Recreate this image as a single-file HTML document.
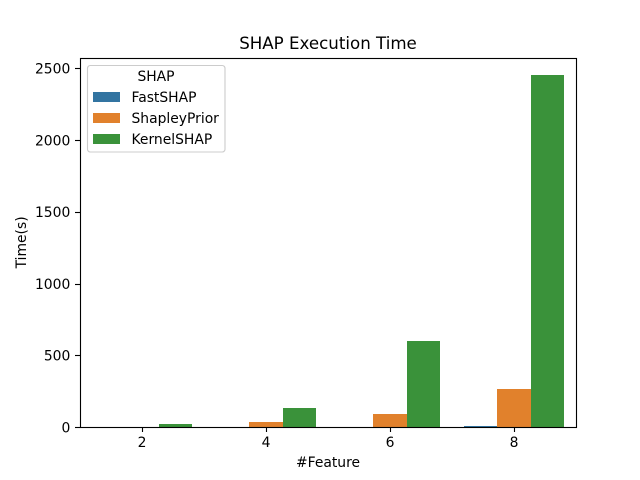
<!DOCTYPE html>
<html>
<head>
<meta charset="utf-8">
<style>
html,body{margin:0;padding:0;background:#fff;}
svg{display:block;}
text{font-family:"DejaVu Sans","Liberation Sans",sans-serif;fill:#000;}
</style>
</head>
<body>
<svg id="chart" xmlns="http://www.w3.org/2000/svg" width="640" height="480" viewBox="0 0 640 480">
  <rect x="0" y="0" width="640" height="480" fill="#fff"></rect>
  <text x="328" y="49" font-size="16.67" text-anchor="middle">SHAP Execution Time</text>
  <text x="328" y="467" font-size="13.89" text-anchor="middle">#Feature</text>
  <text x="26" y="242.4" font-size="13.89" text-anchor="middle" transform="rotate(-90 26 242.4)">Time(s)</text>
  <g id="bars"></g>
  <g id="ticks"></g>
  <rect x="80.5" y="58.5" width="496" height="369" fill="none" stroke="#000" stroke-width="1.11"></rect>
  <g>
    <rect x="87.5" y="65.5" width="137.5" height="86.5" rx="2.8" fill="#fff" fill-opacity="0.8" stroke="#ccc" stroke-width="1.11"></rect>
    <text x="156" y="81" font-size="13.89" text-anchor="middle">SHAP</text>
    <rect x="93" y="92" width="27" height="10" fill="#3274a1"></rect>
    <text x="131.5" y="102" font-size="13.89">FastSHAP</text>
    <rect x="93" y="113" width="27" height="10" fill="#e1812c"></rect>
    <text x="131.5" y="123" font-size="13.89">ShapleyPrior</text>
    <rect x="93" y="134" width="27" height="10" fill="#3a923a"></rect>
    <text x="131.5" y="144" font-size="13.89">KernelSHAP</text>
  </g>
</svg>
<script>
const categories = ["2", "4", "6", "8"];
const seriesNames = ["FastSHAP", "ShapleyPrior", "KernelSHAP"];
const fastShap = [0.3, 0.5, 1, 7];
const shapleyPrior = [3, 36, 92, 266];
const kernelShap = [22, 134, 600, 2453];
const yTickLabels = ["0", "500", "1000", "1500", "2000", "2500"];

const NS = "http://www.w3.org/2000/svg";
const plotLeft = 80, plotRight = 576, plotTop = 57.6, plotBottom = 427.2;
const allSeries = [fastShap, shapleyPrior, kernelShap];
const seriesColors = ["#3274a1", "#e1812c", "#3a923a"];
const yMax = Math.max(...allSeries.flat()) * 1.05;

function xBand(i) {
  return plotLeft + (i + 0.5) * (plotRight - plotLeft) / categories.length;
}
function barWidth() {
  return 0.8 / seriesNames.length * (plotRight - plotLeft) / categories.length;
}
function yScale(v) {
  return plotBottom - (v / yMax) * (plotBottom - plotTop);
}
function snapLine(v) {
  return Math.floor(v + 0.5) + 0.5;
}

const barsGroup = document.getElementById("bars");
const ticksGroup = document.getElementById("ticks");

allSeries.forEach(function (values, s) {
  values.forEach(function (v, i) {
    const bar = document.createElementNS(NS, "rect");
    const w = barWidth();
    const rawLeft = xBand(i) + (s - seriesNames.length / 2) * w;
    const left = Math.round(rawLeft);
    const right = Math.round(rawLeft + w);
    const top = Math.round(yScale(v));
    const bottom = Math.round(plotBottom);
    bar.setAttribute("x", left);
    bar.setAttribute("y", top);
    bar.setAttribute("width", right - left);
    bar.setAttribute("height", bottom - top);
    bar.setAttribute("fill", seriesColors[s]);
    
    
    barsGroup.appendChild(bar);
  });
});

categories.forEach(function (label, i) {
  const tick = document.createElementNS(NS, "line");
  tick.setAttribute("x1", snapLine(xBand(i)));
  tick.setAttribute("x2", snapLine(xBand(i)));
  tick.setAttribute("y1", 427.5);
  tick.setAttribute("y2", 432);
  tick.setAttribute("stroke", "#000");
  tick.setAttribute("stroke-width", "1.11");
  
  
  ticksGroup.appendChild(tick);

  const text = document.createElementNS(NS, "text");
  text.setAttribute("x", xBand(i));
  text.setAttribute("y", "447");
  text.setAttribute("font-size", "13.89");
  text.setAttribute("text-anchor", "middle");
  
  
  text.textContent = label;
  ticksGroup.appendChild(text);
});

yTickLabels.forEach(function (label) {
  const y = yScale(Number(label));
  const tick = document.createElementNS(NS, "line");
  tick.setAttribute("x1", plotLeft - 5);
  tick.setAttribute("x2", plotLeft + 0.5);
  tick.setAttribute("y1", snapLine(y));
  tick.setAttribute("y2", snapLine(y));
  tick.setAttribute("stroke", "#000");
  tick.setAttribute("stroke-width", "1.11");
  
  
  ticksGroup.appendChild(tick);

  const text = document.createElementNS(NS, "text");
  text.setAttribute("x", plotLeft - 9.7);
  text.setAttribute("y", y + 5.1);
  text.setAttribute("font-size", "13.89");
  text.setAttribute("text-anchor", "end");
  
  
  text.textContent = label;
  ticksGroup.appendChild(text);
});
</script>
</body>
</html>
